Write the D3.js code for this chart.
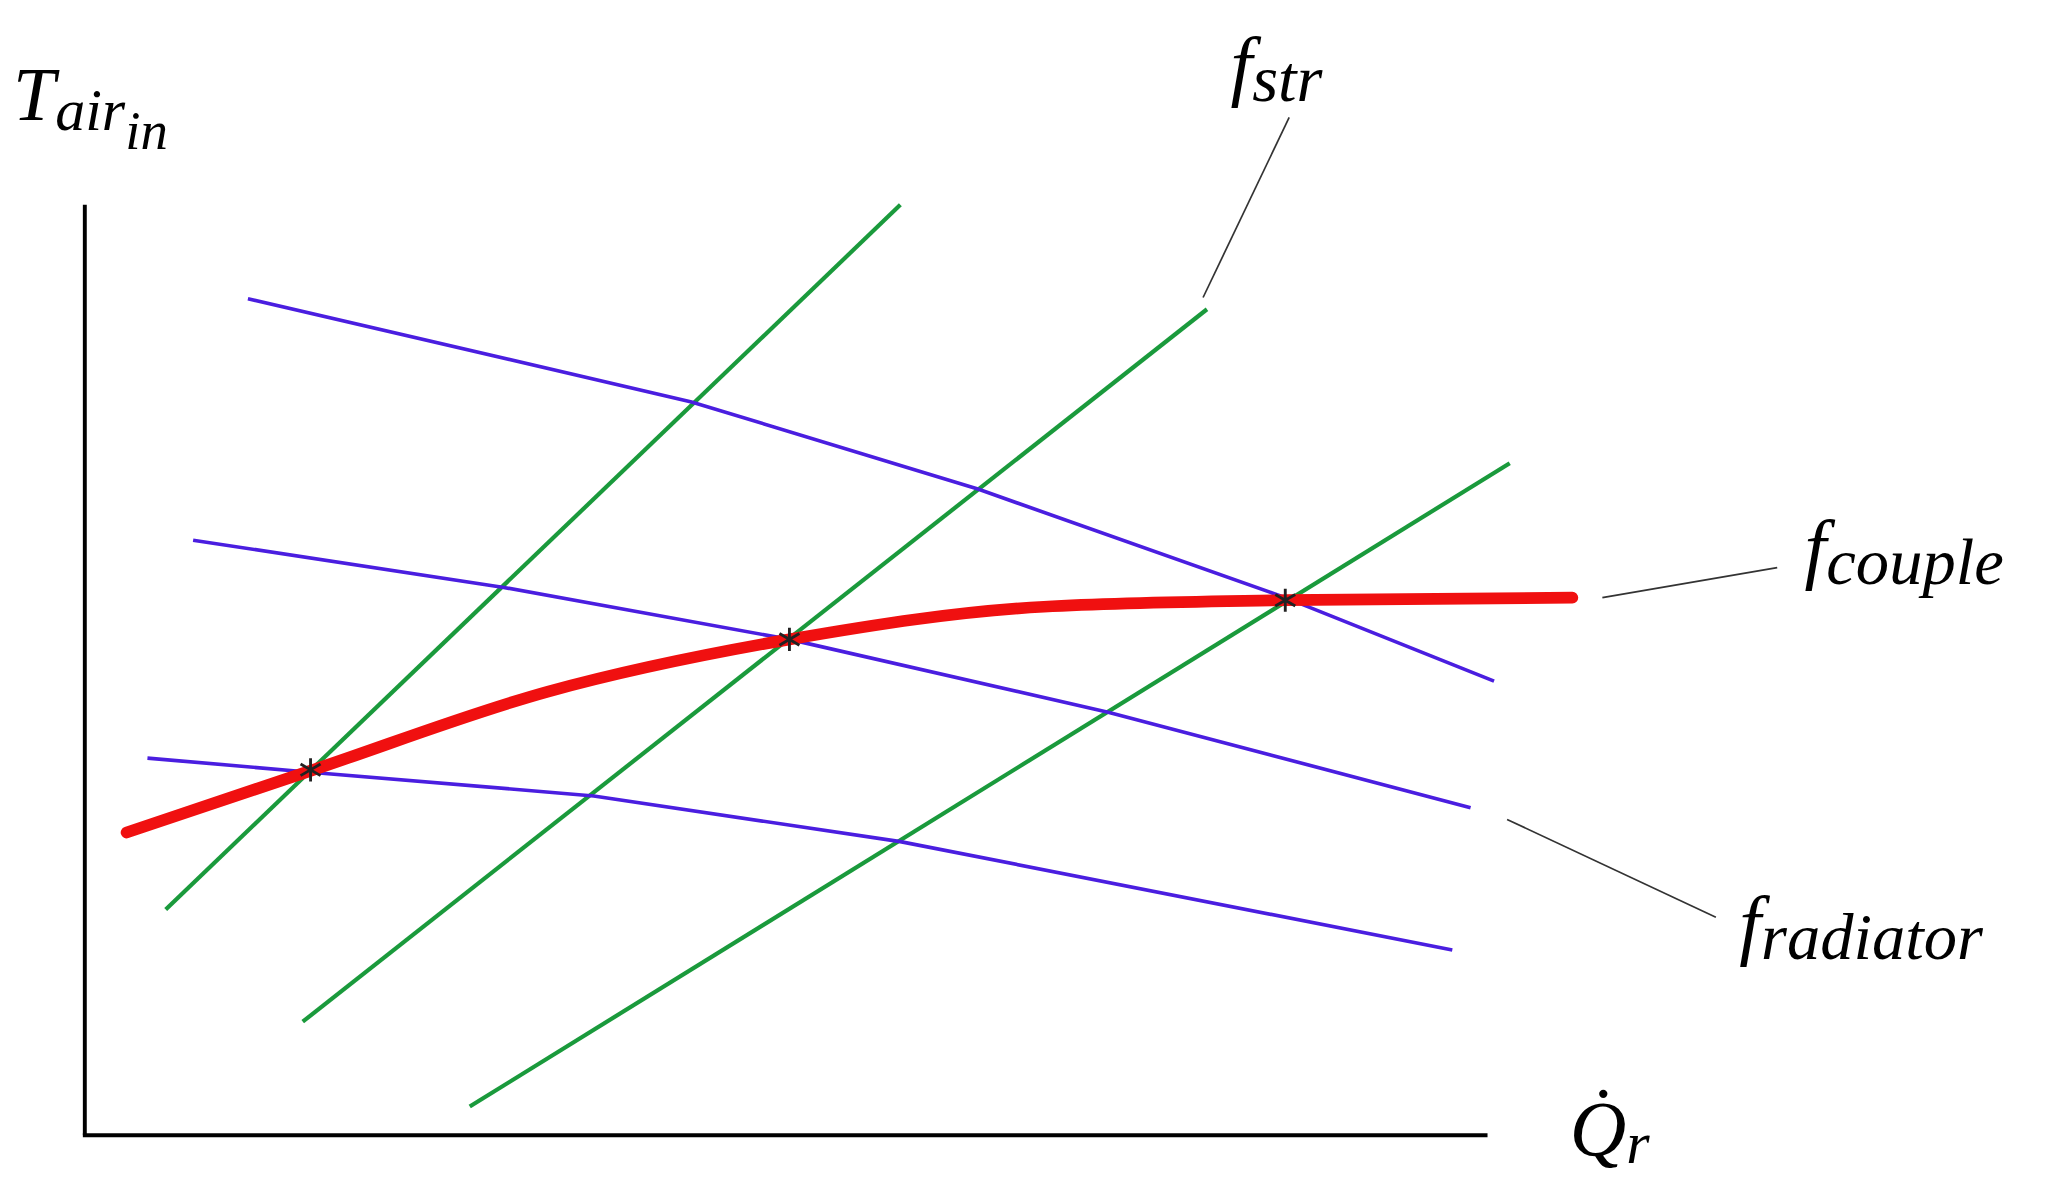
<!DOCTYPE html>
<html><head><meta charset="utf-8">
<script src="https://cdn.jsdelivr.net/npm/d3@7"></script>
<style>body{margin:0;background:#fff}svg{display:block}text{font-family:"Liberation Serif","DejaVu Serif",serif;font-style:italic}</style>
</head><body>
<script>
// Data in abstract units: Q (heat rejection) and T (inlet air temp), origin at axes corner
const strLines = [
  [[62,173],[625,713]],
  [[167,87],[860,633]],
  [[295,22],[1092,515]]
];
const radLines = [
  [[125,641],[465,562],[685,495],[920,412],[1080,348]],
  [[83,456],[320,420],[540,380],[785,324],[1062,251]],
  [[48,289],[175,278],[390,260],[625,225],[1048,142]]
];
const coupleLine = [[32,232],[175,280],[355,340],[540,380],[735,405],[920,410],[1140,412]];
const eqPoints = [[173,280],[540,380],[920,410]];

const W=2046,H=1192,k=W/1568;
const svg=d3.select("body").append("svg").attr("width",W).attr("height",H).attr("viewBox",`0 0 1568 ${H/k}`);
const x=d3.scaleLinear().domain([0,1075]).range([65,1140]);
const y=d3.scaleLinear().domain([0,713]).range([870,157]);
const lineGen=d3.line().x(d=>x(d[0])).y(d=>y(d[1]));
const curveGen=d3.line().x(d=>x(d[0])).y(d=>y(d[1])).curve(d3.curveMonotoneX);

// axes
svg.append("line").attr("x1",x(0)).attr("y1",y(713)).attr("x2",x(0)).attr("y2",y(0)).attr("stroke","#000").attr("stroke-width",3);
svg.append("line").attr("x1",x(0)-1.5).attr("y1",y(0)).attr("x2",x(1075)).attr("y2",y(0)).attr("stroke","#000").attr("stroke-width",3);

strLines.forEach(l=>svg.append("path").attr("d",lineGen(l)).attr("fill","none").attr("stroke","#1a9a3c").attr("stroke-width",3.2));
radLines.forEach(l=>svg.append("path").attr("d",lineGen(l)).attr("fill","none").attr("stroke","#4a1ee0").attr("stroke-width",2.8));
svg.append("path").attr("d",curveGen(coupleLine)).attr("fill","none").attr("stroke","#f01010").attr("stroke-width",9).attr("stroke-linecap","round");
svg.selectAll(".st").data(eqPoints).join("path").attr("transform",d=>`translate(${x(d[0])},${y(d[1])})`)
  .attr("d",d3.symbol(d3.symbolAsterisk,220)).attr("stroke","#222").attr("stroke-width",2.2).attr("fill","none");

// leader lines
[[[922,228],[988,90]],[[1228,458],[1362,435]],[[1155,628],[1315,703]]].forEach(p=>
  svg.append("line").attr("x1",p[0][0]).attr("y1",p[0][1]).attr("x2",p[1][0]).attr("y2",p[1][1]).attr("stroke","#333").attr("stroke-width",1.3));

function lab(px,py,main,sub,size){
  const t=svg.append("text").attr("x",px).attr("y",py).attr("font-size",size);
  t.append("tspan").text(main);
  t.append("tspan").attr("font-size",size*0.85).attr("dy",size*0.12).text(sub);
  return t;
}
const tl=svg.append("text").attr("x",10).attr("y",92).attr("font-size",58);
tl.append("tspan").text("T");
tl.append("tspan").attr("font-size",46).attr("dy",8).text("air");
tl.append("tspan").attr("font-size",42).attr("dy",14).text("in");
lab(943,70,"f","str",60);
lab(1383,440,"f","couple",60);
lab(1333,728,"f","radiator",60);
const q=svg.append("text").attr("x",1203).attr("y",885).attr("font-size",60);
q.append("tspan").text("Q\u0307");
q.append("tspan").attr("font-size",46).attr("dy",6).text("r");
</script>
</body></html>
